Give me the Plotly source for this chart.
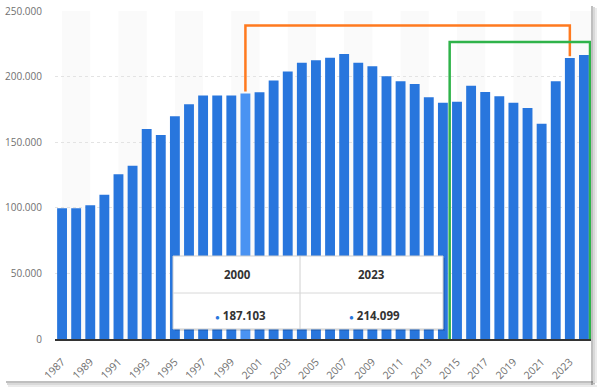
import plotly.graph_objects as go

years = list(range(1987, 2025))
values = [99600, 99600, 102000, 110000, 125500, 132000, 160000, 155500, 169800, 179000,
          185500, 185500, 185500, 187103, 188000, 197000, 203800, 210600, 212500, 214400,
          217200, 210600, 207800, 200200, 196400, 194400, 184200, 180100, 180900, 193100,
          188300, 185000, 180100, 176100, 164100, 196400, 214099, 216500]
highlight_year = 2000
compare_years = [2000, 2023]
y_ticks = [0, 50000, 100000, 150000, 200000, 250000]
y_ticktext = ["0", "50.000", "100.000", "150.000", "200.000", "250.000"]
x_ticks = list(range(1987, 2025, 2))

BLUE = "#2876dd"
BLUE_HI = "#4a93f2"
colors = [BLUE_HI if y == highlight_year else BLUE for y in years]

W, H = 600, 390
L, R, T, B = 55, 9, 11, 51
PW, PH = W - L - R, H - T - B


def px_x(X):
    return (X - L) / PW


def px_y(Y):
    return (H - B - Y) / PH


fig = go.Figure()
fig.add_trace(go.Bar(x=years, y=values, marker_color=colors, marker_line_width=0,
                     width=0.7, hoverinfo="skip"))

shapes = []
# alternating column bands
for start in range(1987, 2025, 4):
    shapes.append(dict(type="rect", xref="x", yref="paper", x0=start, x1=min(start + 2, 2024.5),
                       y0=0, y1=1, fillcolor="#fafafa", line_width=0, layer="below"))

# card shadow
for i, op in enumerate([0.25, 0.15, 0.08]):
    shapes.append(dict(type="rect", xref="paper", yref="paper",
                       x0=px_x(591 + i * 2), x1=px_x(593 + i * 2), y0=px_y(385 - i), y1=px_y(6 + i),
                       fillcolor="rgba(0,0,0,%s)" % op, line_width=0, layer="above"))
    shapes.append(dict(type="rect", xref="paper", yref="paper",
                       x0=px_x(6 + i), x1=px_x(593 + i * 2), y0=px_y(383 + i * 2), y1=px_y(381 + i * 2),
                       fillcolor="rgba(0,0,0,%s)" % op, line_width=0, layer="above"))

# orange bracket between compared years
v0 = values[years.index(compare_years[0])]
v1 = values[years.index(compare_years[1])]
top = 239000
shapes.append(dict(type="path", xref="x", yref="y",
                   path="M %d,%d L %d,%d L %d,%d L %d,%d" % (
                       compare_years[0], v0 + 1500, compare_years[0], top,
                       compare_years[1], top, compare_years[1], v1 + 1500),
                   line=dict(color="#ff7a1f", width=2.5)))

# green highlight rectangle
shapes.append(dict(type="rect", xref="x", yref="y", x0=2014.48, x1=2024.43, y0=-4200, y1=226300,
                   line=dict(color="#2fb34a", width=2.5), fillcolor="rgba(0,0,0,0)"))

# tooltip box
shapes.append(dict(type="rect", xref="paper", yref="paper", x0=px_x(175), x1=px_x(445),
                   y0=px_y(331), y1=px_y(258), fillcolor="rgba(0,0,0,0.12)", line_width=0))
shapes.append(dict(type="rect", xref="paper", yref="paper", x0=px_x(173), x1=px_x(443),
                   y0=px_y(329), y1=px_y(256), fillcolor="white", line=dict(color="#cfcfcf", width=1)))
shapes.append(dict(type="line", xref="paper", yref="paper", x0=px_x(300), x1=px_x(300),
                   y0=px_y(329), y1=px_y(256), line=dict(color="#d0d0d0", width=1)))
shapes.append(dict(type="line", xref="paper", yref="paper", x0=px_x(173), x1=px_x(443),
                   y0=px_y(293), y1=px_y(293), line=dict(color="#d8d8d8", width=1)))

annotations = []
centers = [237, 371]
for cx, yr in zip(centers, compare_years):
    val = values[years.index(yr)]
    annotations.append(dict(xref="paper", yref="paper", x=px_x(cx), y=px_y(274), text="<b>%d</b>" % yr,
                            xanchor="center", yanchor="middle",
                            showarrow=False, font=dict(size=11.5, color="#333333")))
    txt = "{:,}".format(val).replace(",", ".")
    annotations.append(dict(xref="paper", yref="paper", x=px_x(cx + 3), y=px_y(315),
                            xanchor="center", yanchor="middle",
                            text="<span style='color:%s;font-size:8px'>●</span> <b>%s</b>" % (BLUE, txt),
                            showarrow=False, font=dict(size=11.5, color="#333333")))

fig.update_layout(
    width=W, height=H,
    margin=dict(l=L, r=R, t=T, b=B, autoexpand=False),
    paper_bgcolor="white", plot_bgcolor="white",
    font=dict(family="Open Sans, Arial", color="#666666"),
    showlegend=False,
    shapes=shapes,
    annotations=annotations,
    bargap=0.3,
)
fig.update_xaxes(range=[1986.5, 2024.5], tickvals=x_ticks, ticktext=[str(t) for t in x_ticks],
                 tickangle=-45, tickfont=dict(size=10.5, color="#707070"), showgrid=False,
                 showline=True, linecolor="#333333", linewidth=1.5,
                 ticks="outside", ticklen=11, tickcolor="rgba(0,0,0,0)", zeroline=False)
fig.update_yaxes(range=[0, 250000], tickvals=y_ticks, ticktext=y_ticktext,
                 tickfont=dict(size=10, color="#707070"), showgrid=True, gridcolor="#e3e3e3",
                 griddash="dot", gridwidth=1, zeroline=False,
                 ticks="outside", ticklen=10, tickcolor="rgba(0,0,0,0)")

fig.write_html("out.html", config={"displayModeBar": False},
               post_script="document.body.style.margin='0';document.body.style.padding='0';")
